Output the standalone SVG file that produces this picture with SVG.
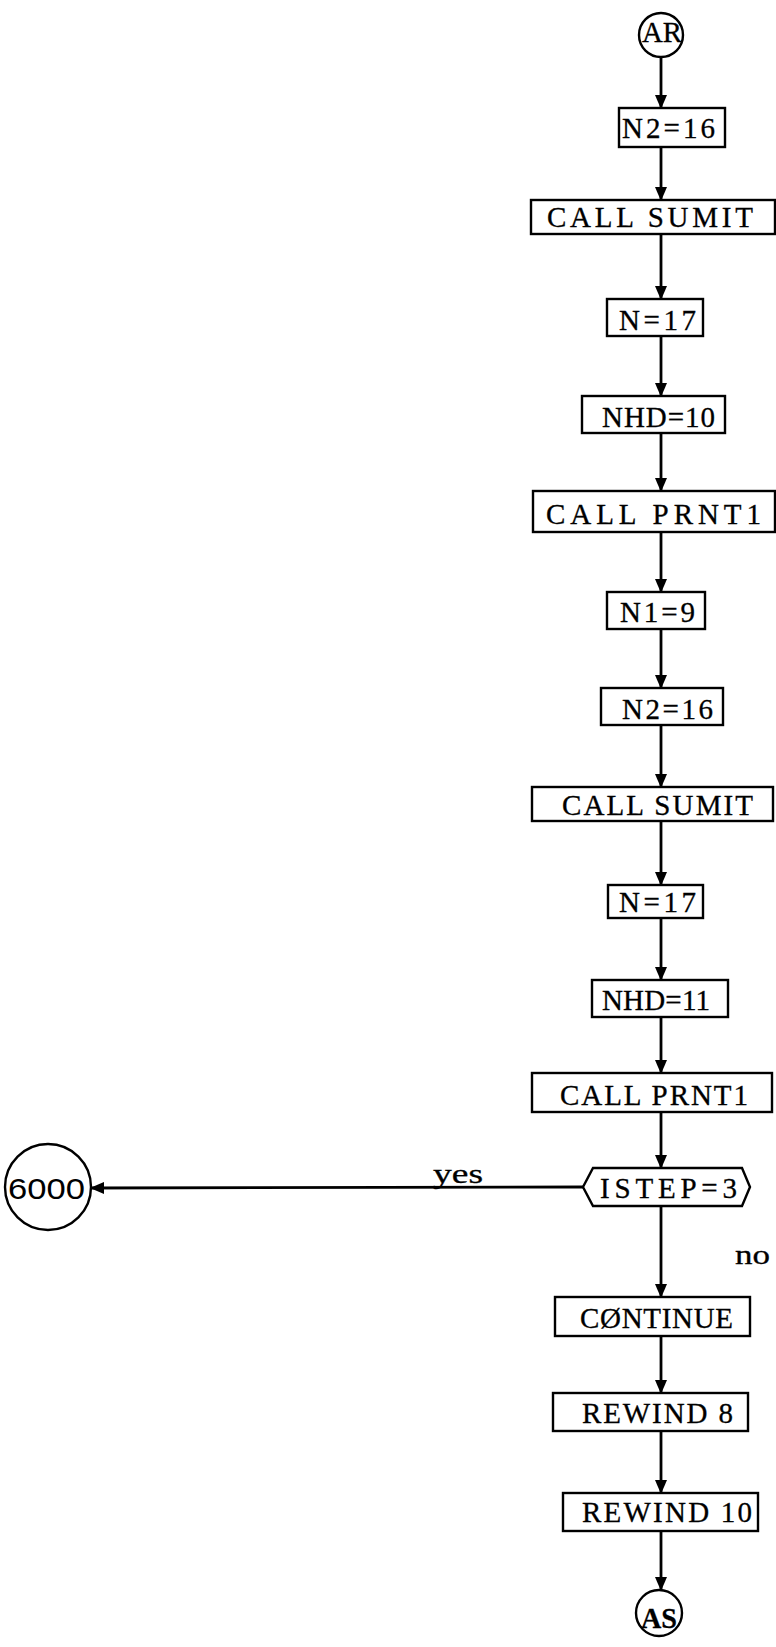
<svg xmlns="http://www.w3.org/2000/svg" width="776" height="1647" viewBox="0 0 776 1647">
<style>
.box{fill:#fff;stroke:#000;stroke-width:2.4}
.t{font-family:"Liberation Serif","Times New Roman",serif;font-size:29px;fill:#000;stroke:#000;stroke-width:0.3}
.c{fill:#fff;stroke:#000;stroke-width:2.4}
.lbl{font-family:"Liberation Serif","Times New Roman",serif;font-size:28px;fill:#000;stroke:#000;stroke-width:0.3}
.s{font-family:"Liberation Sans",Arial,sans-serif;font-size:30px;fill:#000}
.e{fill:none;stroke:#000;stroke-width:2.8}
</style>
<defs>
<marker id="ah" markerUnits="userSpaceOnUse" markerWidth="14" markerHeight="12" refX="13" refY="6" orient="auto">
<path d="M0,0 L14,6 L0,12 z" fill="#000"/>
</marker>
</defs>
<g id="connectors">
<line class="e" x1="661" y1="57" x2="661" y2="108" marker-end="url(#ah)"/>
<line class="e" x1="661" y1="147" x2="661" y2="200" marker-end="url(#ah)"/>
<line class="e" x1="661" y1="234" x2="661" y2="299" marker-end="url(#ah)"/>
<line class="e" x1="661" y1="336" x2="661" y2="396" marker-end="url(#ah)"/>
<line class="e" x1="661" y1="433" x2="661" y2="491" marker-end="url(#ah)"/>
<line class="e" x1="661" y1="532" x2="661" y2="592" marker-end="url(#ah)"/>
<line class="e" x1="661" y1="629" x2="661" y2="688" marker-end="url(#ah)"/>
<line class="e" x1="661" y1="725" x2="661" y2="787" marker-end="url(#ah)"/>
<line class="e" x1="661" y1="821" x2="661" y2="885" marker-end="url(#ah)"/>
<line class="e" x1="661" y1="918" x2="661" y2="980" marker-end="url(#ah)"/>
<line class="e" x1="661" y1="1017" x2="661" y2="1073" marker-end="url(#ah)"/>
<line class="e" x1="661" y1="1112" x2="661" y2="1168" marker-end="url(#ah)"/>
<line class="e" x1="661" y1="1206" x2="661" y2="1297" marker-end="url(#ah)"/>
<line class="e" x1="661" y1="1336" x2="661" y2="1393" marker-end="url(#ah)"/>
<line class="e" x1="661" y1="1431" x2="661" y2="1493" marker-end="url(#ah)"/>
<line class="e" x1="661" y1="1531" x2="661" y2="1590" marker-end="url(#ah)"/>
<line class="e" x1="583" y1="1187" x2="91" y2="1188" marker-end="url(#ah)"/>
<text class="lbl" x="433" y="1183" textLength="50" lengthAdjust="spacingAndGlyphs">yes</text>
<text class="lbl" x="735" y="1264" textLength="35" lengthAdjust="spacingAndGlyphs">no</text>
</g>
<g id="AR">
<circle class="c" cx="661" cy="35" r="22"/>
<text class="t" x="642" y="42" textLength="40" lengthAdjust="spacingAndGlyphs" font-size="22">AR</text>
</g>
<g id="n1">
<rect class="box" x="619" y="108" width="106" height="39"/>
<text class="t" x="622" y="138" textLength="93" lengthAdjust="spacing">N2=16</text>
</g>
<g id="n2">
<rect class="box" x="531" y="200" width="244" height="34"/>
<text class="t" x="547" y="227" textLength="206" lengthAdjust="spacing">CALL SUMIT</text>
</g>
<g id="n3">
<rect class="box" x="607" y="299" width="96" height="37"/>
<text class="t" x="619" y="330" textLength="77" lengthAdjust="spacing">N=17</text>
</g>
<g id="n4">
<rect class="box" x="582" y="396" width="143" height="37"/>
<text class="t" x="602" y="427" textLength="113" lengthAdjust="spacing">NHD=10</text>
</g>
<g id="n5">
<rect class="box" x="533" y="491" width="242" height="41"/>
<text class="t" x="546" y="524" textLength="215" lengthAdjust="spacing">CALL PRNT1</text>
</g>
<g id="n6">
<rect class="box" x="607" y="592" width="98" height="37"/>
<text class="t" x="620" y="622" textLength="75" lengthAdjust="spacing">N1=9</text>
</g>
<g id="n7">
<rect class="box" x="601" y="688" width="122" height="37"/>
<text class="t" x="622" y="719" textLength="91" lengthAdjust="spacing">N2=16</text>
</g>
<g id="n8">
<rect class="box" x="532" y="787" width="241" height="34"/>
<text class="t" x="562" y="815" textLength="191" lengthAdjust="spacing">CALL SUMIT</text>
</g>
<g id="n9">
<rect class="box" x="608" y="885" width="95" height="33"/>
<text class="t" x="619" y="912" textLength="77" lengthAdjust="spacing">N=17</text>
</g>
<g id="n10">
<rect class="box" x="592" y="980" width="136" height="37"/>
<text class="t" x="602" y="1010" textLength="108" lengthAdjust="spacing">NHD=11</text>
</g>
<g id="n11">
<rect class="box" x="532" y="1073" width="240" height="39"/>
<text class="t" x="560" y="1105" textLength="188" lengthAdjust="spacing">CALL PRNT1</text>
</g>
<g id="n12">
<polygon class="box" points="583,1187 593,1168 742,1168 750,1187 742,1206 593,1206"/>
<text class="t" x="600" y="1198" textLength="137" lengthAdjust="spacing">ISTEP=3</text>
</g>
<g id="n13">
<rect class="box" x="555" y="1297" width="195" height="39"/>
<text class="t" x="580" y="1328" textLength="153" lengthAdjust="spacing">CØNTINUE</text>
</g>
<g id="n14">
<rect class="box" x="553" y="1393" width="195" height="38"/>
<text class="t" x="582" y="1423" textLength="151" lengthAdjust="spacing">REWIND 8</text>
</g>
<g id="n15">
<rect class="box" x="563" y="1493" width="195" height="38"/>
<text class="t" x="582" y="1522" textLength="170" lengthAdjust="spacing">REWIND 10</text>
</g>
<g id="AS">
<circle class="c" cx="659" cy="1613" r="23"/>
<text class="t" x="641" y="1628" textLength="36" lengthAdjust="spacingAndGlyphs" font-size="24" font-weight="bold">AS</text>
</g>
<g id="n6000">
<circle class="c" cx="48" cy="1187" r="43"/>
<text class="s" x="8" y="1199" textLength="77" lengthAdjust="spacingAndGlyphs">6000</text>
</g>
</svg>
